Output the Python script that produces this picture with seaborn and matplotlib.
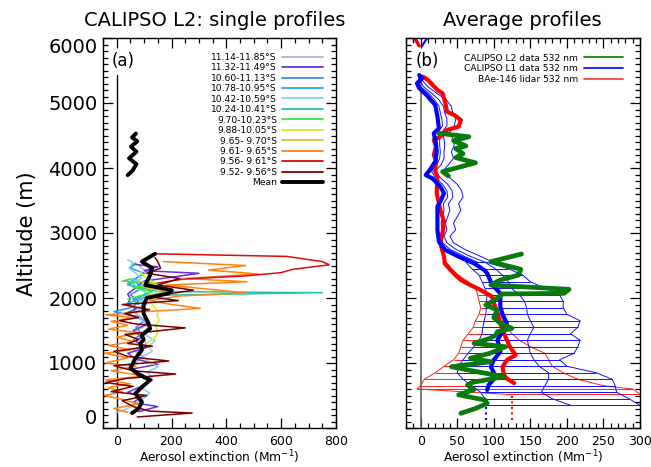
import matplotlib
matplotlib.use("Agg")
import matplotlib.pyplot as plt
from matplotlib.lines import Line2D
from matplotlib.ticker import MultipleLocator
import seaborn as sns

# ---------------------------------------------------------------------------
# Panel (a): CALIPSO L2 single profiles  (altitude in m, extinction in Mm-1)
# ---------------------------------------------------------------------------
lat_labels = ["11.14-11.85°S", "11.32-11.49°S", "10.60-11.13°S", "10.78-10.95°S",
              "10.42-10.59°S", "10.24-10.41°S", "9.70-10.23°S", "9.88-10.05°S",
              "9.65- 9.70°S", "9.61- 9.65°S", "9.56- 9.61°S", "9.52- 9.56°S"]
lat_colors = ["#b4aee0", "#6a2fe0", "#3c8cf0", "#14aaf0", "#82d2fa", "#1ec8aa",
              "#3ce63c", "#d2f01e", "#dcbe3c", "#ff8214", "#e00a0a", "#780000"]

alt_lav = [1000, 1100, 1200, 1300, 1400, 1500, 1600, 1700, 1800, 1900, 2000, 2100, 2200, 2300, 2400, 2500]
ext_lav = [70, 95, 60, 110, 85, 70, 120, 90, 60, 100, 80, 130, 90, 70, 110, 80]

alt_pur = [250, 330, 390, 480, 550, 640, 740, 830, 910, 980, 1060, 1150, 1240, 1330, 1400, 1500,
           1600, 1700, 1760, 1830, 1910, 1990, 2060, 2160, 2260, 2380, 2420, 2480, 2520]
ext_pur = [80, 150, 60, 90, 40, 90, 130, 90, 60, 150, 70, 40, 110, 70, 90, 60,
           110, 80, 30, 70, 40, 50, 40, 70, 100, 300, 100, 150, 60]

alt_blu = [1350, 1450, 1550, 1650, 1720, 1790, 1860, 1950, 2050, 2150, 2250]
ext_blu = [60, 90, 70, 100, 65, -10, 60, 80, 50, 90, 70]

alt_sky = [1900, 1980, 2060, 2140, 2220, 2300, 2380, 2460, 2540]
ext_sky = [80, 60, 110, 90, 40, 70, 100, 50, 70]

alt_lsk = [230, 300, 380, 460, 540, 620, 700, 780, 860, 940, 1020, 1100, 1180, 1260, 1340, 1420,
           1500, 1580, 1660, 1740, 1820, 1900, 1980, 2060, 2140, 2220, 2300, 2380, 2460, 2540, 2590]
ext_lsk = [-5, 40, 70, 100, 120, 90, 110, 130, 110, 150, 120, 95, 130, 115, 140, 110,
           100, 125, 90, 70, 80, 110, 90, 120, 80, 60, 90, 70, 45, 60, 40]

alt_tur = [1850, 1920, 1990, 2040, 2082, 2100, 2150, 2200, 2260]
ext_tur = [60, 40, 90, 120, 750, 150, 100, 40, 70]

alt_grn = [1980, 2040, 2100, 2160, 2230, 2260, 2300]
ext_grn = [40, 90, 130, 60, 150, 20, 60]

alt_ylg = [1300, 1360, 1420, 1500, 1580, 1650, 1720, 1800, 1870, 1950, 2050, 2150, 2250, 2330, 2400]
ext_ylg = [110, 130, 145, 150, 140, 155, 147, 150, 135, 120, 140, 160, 130, 100, 86]

alt_gld = [2050, 2100, 2150, 2200, 2250]
ext_gld = [120, 200, 110, 160, 90]

alt_org = [240, 300, 370, 430, 500, 560, 620, 680, 740, 800, 880, 950, 1000, 1080, 1150, 1200,
           1270, 1330, 1400, 1460, 1520, 1580, 1640, 1700, 1740, 1790, 1840, 1900, 1960, 2030,
           2080, 2150, 2200, 2250, 2300, 2370, 2430, 2500, 2560]
ext_org = [40, -10, 80, 30, -45, 20, -30, 50, -40, 100, -20, 70, -40, 40, -45, 50,
           -30, 60, 0, 90, -30, 40, -20, 60, -40, 100, 305, 200, 120, 230,
           470, 300, 180, 475, 250, 515, 335, 470, 170]

alt_red = [2230, 2290, 2340, 2390, 2440, 2510, 2560, 2640, 2680]
ext_red = [150, 240, 470, 600, 640, 775, 750, 620, 140]

alt_mar = [170, 230, 260, 330, 420, 500, 560, 640, 700, 760, 830, 880, 960, 1030, 1100, 1180,
           1260, 1300, 1360, 1440, 1540, 1600, 1650, 1700, 1760, 1820, 1900, 1960, 2020, 2120,
           2200, 2300, 2380, 2460, 2560, 2620]
ext_mar = [75, 275, 120, 60, 20, 110, -20, 60, -40, 30, 215, 60, -10, 190, 40, -10,
           130, 40, 80, 30, 250, 70, 10, 80, 30, 120, 20, 225, 120, 280,
           150, 230, 110, 160, 150, 140]

alt_mean = [230, 300, 400, 530, 630, 740, 820, 920, 1070, 1200, 1300, 1360, 1430, 1530, 1610,
            1760, 1890, 2000, 2070, 2120, 2200, 2350, 2460, 2560, 2680]
ext_mean = [56, 80, 92, 68, 92, 122, 80, 50, 68, 92, 86, 98, 92, 122, 116,
            98, 98, 110, 189, 201, 104, 122, 129, 92, 140]
alt_mean_up = [3890, 3960, 4060, 4150, 4250, 4330, 4410, 4470, 4530]
ext_mean_up = [40, 58, 72, 45, 72, 52, 75, 56, 70]

profiles_a = [(alt_lav, ext_lav), (alt_pur, ext_pur), (alt_blu, ext_blu), (alt_sky, ext_sky),
              (alt_lsk, ext_lsk), (alt_tur, ext_tur), (alt_grn, ext_grn), (alt_ylg, ext_ylg),
              (alt_gld, ext_gld), (alt_org, ext_org), (alt_red, ext_red), (alt_mar, ext_mar)]

# ---------------------------------------------------------------------------
# Panel (b): average profiles
# ---------------------------------------------------------------------------
alt_l2 = [226, 300, 380, 430, 510, 590, 660, 700, 790, 860, 943, 1020, 1072, 1150, 1250, 1303,
          1380, 1431, 1482, 1533, 1600, 1700, 1815, 1892, 1960, 2062, 2072, 2133, 2200, 2277,
          2354, 2441, 2520, 2559, 2677]
ext_l2 = [55, 75, 91, 88, 52, 73, 64, 70, 114, 80, 42, 96, 68, 95, 116, 73,
          95, 103, 105, 125, 110, 100, 105, 89, 100, 112, 196, 203, 96, 109,
          134, 137, 110, 96, 138]
alt_l2_up = [3877, 3944, 4080, 4160, 4220, 4300, 4340, 4420, 4480, 4534]
ext_l2_up = [38, 30, 75, 48, 58, 48, 62, 45, 66, 25]

alt_l1 = [585, 661, 790, 943, 1046, 1174, 1354, 1480, 1610, 1750, 1866, 2072, 2200, 2300, 2380,
          2431, 2533, 2636, 2738, 2867, 3046, 3277, 3405, 3510, 3610, 3713, 3841, 3892, 3960,
          4100, 4250, 4380, 4534, 4610, 4790, 4969, 5123, 5230, 5303, 5380, 5430]
ext_l1 = [91, 93, 103, 96, 100, 109, 105, 112, 118, 112, 109, 109, 98, 94, 91,
          87, 73, 52, 34, 25, 23, 23, 23, 28, 32, 27, 16, 7, 12,
          20, 22, 21, 18, 25, 23, 20, 8, -2, -5, 2, -2]

alt_bae = [690, 760, 815, 943, 1046, 1123, 1250, 1405, 1610, 1815, 2020, 2123, 2200, 2277, 2350,
           2431, 2530, 2636, 2841, 3000, 3174, 3354, 3610, 3866, 3950, 4123, 4200, 4328, 4431,
           4482, 4585, 4636, 4738, 4815, 4866, 4995, 5072, 5149, 5200, 5354, 5405]
ext_bae = [128, 118, 114, 112, 118, 130, 122, 116, 109, 103, 98, 82, 68, 55, 48,
           41, 33, 32, 27, 30, 32, 27, 22, 23, 20, 21, 18, 21, 18,
           27, 36, 52, 55, 46, 36, 34, 32, 30, 23, 10, 3]

# error envelopes below ~2600 m
alt_env = [350, 450, 550, 650, 750, 850, 950, 1050, 1150, 1250, 1350, 1450, 1550, 1650, 1750,
           1850, 1950, 2050, 2150, 2250, 2350, 2450, 2550]
l1_hi = [300, 285, 268, 266, 262, 240, 200, 190, 210, 215, 218, 205, 215, 218, 200,
         195, 195, 190, 170, 150, 140, 120, 90]
l1_mid = [205, 180, 165, 170, 175, 175, 162, 155, 150, 148, 146, 150, 155, 150, 146,
          145, 142, 135, 124, 120, 112, 102, 88]
l1_lo = [90, 88, 82, 70, 58, 50, 52, 58, 65, 73, 80, 84, 85, 87, 89,
         90, 90, 91, 88, 84, 80, 70, 62]

alt_env_r = [520, 600, 650, 750, 850, 950, 1050, 1150, 1250, 1350, 1450, 1550, 1650, 1750,
             1850, 1950, 2050, 2150, 2250, 2350, 2450, 2550]
bae_hi = [300, 290, 250, 215, 195, 180, 175, 170, 150, 135, 125, 118, 112, 108,
          105, 100, 92, 80, 62, 50, 42, 35]
bae_lo = [115, -5, 0, 5, 20, 32, 45, 52, 55, 58, 65, 72, 75, 80,
          82, 80, 78, 75, 65, 52, 42, 35]

# thin L1 profiles above the boundary layer
alt_upper = [2550, 2650, 2750, 2850, 2950, 3050, 3150, 3250, 3350, 3450, 3550, 3650, 3750, 3850,
             3950, 4050, 4150, 4250, 4350, 4450, 4550, 4650, 4750, 4850, 4950, 5050, 5150, 5250,
             5350, 5430]
l1_thin1 = [100, 80, 60, 45, 40, 48, 45, 50, 55, 52, 58, 56, 50, 40,
            30, 38, 45, 42, 46, 44, 40, 46, 48, 44, 42, 35, 22, 10, 2, 0]
l1_thin2 = [88, 66, 48, 36, 32, 36, 34, 37, 40, 38, 44, 43, 37, 27,
            20, 28, 32, 32, 33, 32, 29, 36, 36, 33, 31, 25, 15, 4, -1, -1]
l1_thin3 = [78, 58, 40, 30, 27, 29, 28, 30, 32, 31, 37, 36, 30, 20,
            15, 22, 26, 27, 26, 26, 23, 30, 29, 27, 25, 19, 11, 0, -3, -2]

# near-surface extrapolation (dotted)
alt_sfc_l1 = [120, 420]
ext_sfc_l1 = [90, 90]
alt_sfc_bae = [120, 560]
ext_sfc_bae = [125, 125]

# bits above 5800 m at the top edge
alt_top = [5880, 6000]
ext_top_bae = [-2, -8]
ext_top_l1 = [2, 9]

DPI = 100


def prof(ax, ext, alt, color, lw, ls="-", zorder=2):
    sns.lineplot(x=ext, y=alt, sort=False, estimator=None, color=color,
                 linewidth=lw, linestyle=ls, ax=ax, legend=False, zorder=zorder)


def idl_axes(ax):
    ax.tick_params(which="both", direction="in", top=True, right=True,
                   width=0.9, colors="black", labelcolor="black")
    ax.tick_params(which="major", length=7)
    ax.tick_params(which="minor", length=3.5)
    for s in ax.spines.values():
        s.set_linewidth(1.0)
        s.set_color("black")
    ax.grid(False)


sns.set_theme(style="ticks")
plt.rcParams["font.family"] = ["DejaVu Sans"]
plt.rcParams["text.color"] = "black"
plt.rcParams["axes.labelcolor"] = "black"

fig = plt.figure(figsize=(651 / DPI, 467 / DPI), dpi=DPI)
ax_a = fig.add_axes([103 / 651, 39 / 467, 233 / 651, 390 / 467])
ax_b = fig.add_axes([406 / 651, 39 / 467, 234 / 651, 390 / 467])

# ---- panel (a)
ax_a.plot([0, 0], [0, 5430], color="black", lw=1.0, zorder=1)
for (alt, ext), col in zip(profiles_a, lat_colors):
    prof(ax_a, ext, alt, col, 1.1)
prof(ax_a, ext_mean, alt_mean, "black", 2.8, zorder=5)
prof(ax_a, ext_mean_up, alt_mean_up, "black", 2.8, zorder=5)

ax_a.set_xlim(-50, 800)
ax_a.set_ylim(0, 6000)
ax_a.xaxis.set_major_locator(MultipleLocator(200))
ax_a.xaxis.set_minor_locator(MultipleLocator(50))
ax_a.yaxis.set_major_locator(MultipleLocator(1000))
ax_a.yaxis.set_minor_locator(MultipleLocator(100))
idl_axes(ax_a)
ax_a.tick_params(axis="x", labelsize=9, pad=5)
ax_a.tick_params(axis="y", labelsize=14, pad=4)
ax_a.set_xlabel("Aerosol extinction (Mm$^{-1}$)", fontsize=8.8, labelpad=0)
ax_a.set_ylabel("")
ax_a.text(0.088, 0.94, "(a)", transform=ax_a.transAxes, fontsize=12,
          ha="center", va="center")

handles_a = [Line2D([], [], color=c, lw=1.3) for c in lat_colors]
handles_a.append(Line2D([], [], color="black", lw=2.8))
ax_a.legend(handles_a, lat_labels + ["Mean"], loc="upper right",
            bbox_to_anchor=(0.943, 0.962), frameon=False, markerfirst=False,
            fontsize=6.6, handlelength=4.4, handletextpad=0.6,
            labelspacing=0.16, borderpad=0, borderaxespad=0)

# ---- panel (b)
ax_b.plot([0, 0], [0, 5400], color="#606060", lw=1.2, zorder=1)

# BAe-146 envelope + error bars
prof(ax_b, bae_hi, alt_env_r, "#ff2020", 0.7)
prof(ax_b, bae_lo, alt_env_r, "#ff2020", 0.7)
ax_b.hlines(alt_env_r, bae_lo, bae_hi, color="#ff2020", lw=0.7, zorder=2)

# CALIPSO L1 envelope + error bars
prof(ax_b, l1_hi, alt_env, "#1010ff", 0.7)
prof(ax_b, l1_mid, alt_env, "#1010ff", 0.7)
prof(ax_b, l1_lo, alt_env, "#1010ff", 0.7)
ax_b.hlines(alt_env, l1_lo, l1_hi, color="#1010ff", lw=0.7, zorder=2)
for thin in (l1_thin1, l1_thin2, l1_thin3):
    prof(ax_b, thin, alt_upper, "#1010ff", 0.7)

prof(ax_b, ext_top_bae, alt_top, "red", 2.5)
prof(ax_b, ext_top_l1, alt_top, "blue", 1.5)

prof(ax_b, ext_bae, alt_bae, "red", 3.0, zorder=4)
prof(ax_b, ext_l1, alt_l1, "blue", 3.0, zorder=5)
prof(ax_b, ext_l2, alt_l2, "#0a7a0a", 3.4, zorder=6)
prof(ax_b, ext_l2_up, alt_l2_up, "#0a7a0a", 3.4, zorder=6)
prof(ax_b, ext_sfc_l1, alt_sfc_l1, "blue", 1.5, ls=":", zorder=4)
prof(ax_b, ext_sfc_bae, alt_sfc_bae, "red", 1.5, ls=":", zorder=4)

ax_b.set_xlim(-20, 300)
ax_b.set_ylim(0, 6000)
ax_b.xaxis.set_major_locator(MultipleLocator(50))
ax_b.xaxis.set_minor_locator(MultipleLocator(10))
ax_b.yaxis.set_major_locator(MultipleLocator(1000))
ax_b.yaxis.set_minor_locator(MultipleLocator(100))
idl_axes(ax_b)
ax_b.tick_params(axis="x", labelsize=9, pad=5)
ax_b.tick_params(axis="y", labelleft=False)
ax_b.set_xlabel("Aerosol extinction (Mm$^{-1}$)", fontsize=8.8, labelpad=0)
ax_b.set_ylabel("")
ax_b.text(0.09, 0.94, "(b)", transform=ax_b.transAxes, fontsize=12,
          ha="center", va="center")

handles_b = [Line2D([], [], color="#0a8a0a", lw=1.3),
             Line2D([], [], color="#1010ff", lw=1.3),
             Line2D([], [], color="#ff4040", lw=1.3)]
ax_b.legend(handles_b, ["CALIPSO L2 data 532 nm", "CALIPSO L1 data 532 nm",
                        "BAe-146 lidar 532 nm"],
            loc="upper right", bbox_to_anchor=(0.927, 0.96), frameon=False,
            markerfirst=False, fontsize=6.6, handlelength=4.3, handletextpad=0.6,
            labelspacing=0.2, borderpad=0, borderaxespad=0)

# shift end labels inward like the original
for lab in ax_a.get_yticklabels():
    if lab.get_text() == "0":
        lab.set_va("bottom")
    elif lab.get_text() == "6000":
        lab.set_va("top")

fig.text(0.330, 0.957, "CALIPSO L2: single profiles", fontsize=14,
         ha="center", va="center")
fig.text(0.803, 0.957, "Average profiles", fontsize=14, ha="center", va="center")
fig.text(0.041, 0.50, "Altitude (m)", fontsize=15, rotation=90,
         ha="center", va="center")

fig.savefig("out.png", dpi=DPI)
